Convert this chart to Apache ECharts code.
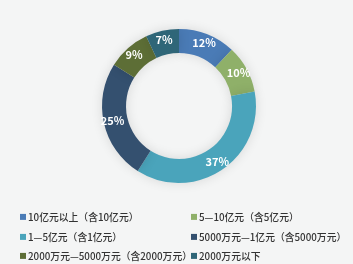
<!DOCTYPE html>
<html><head><meta charset="utf-8">
<script src="https://cdn.jsdelivr.net/npm/echarts@6/dist/echarts.min.js"></script>
<style>html,body{margin:0;padding:0;background:#f4f5f5;}#c{width:353px;height:264px;}</style>
</head><body><div id="c"></div>
<script>
const categories = ['10亿元以上（含10亿元）','5—10亿元（含5亿元）','1—5亿元（含1亿元）','5000万元—1亿元（含5000万元）','2000万元—5000万元（含2000万元）','2000万元以下'];
const values = [12,10,37,25,9,7];
const colors = ['#4a7bb6','#8fb069','#4aa4bb','#34506f','#5d6e36','#2f6678'];
const chart = echarts.init(document.getElementById('c'));
const font = '"Noto Sans CJK SC", "Noto Sans", sans-serif';
const legendPos = [[20,212],[191,212],[20,232],[191,232],[20,251],[191,251]];
chart.setOption({
  backgroundColor:'#f4f5f5',
  color: colors,
  legend: categories.map((c,i)=>({
    data:[c], left:legendPos[i][0], top:legendPos[i][1], itemWidth:6, itemHeight:6, icon:'rect', padding:0,
    textStyle:{fontSize:9.8, color:'#333', fontWeight:500, fontFamily:font, padding:[0,0,0,-3]}
  })),
  series:[{
    type:'pie', center:[179,106], radius:[53,77], startAngle:90, clockwise:true,
    itemStyle:{shadowBlur:12, shadowColor:'rgba(0,0,0,0.12)'},
    label:{position:'inside', formatter:'{c}%', color:'#fff', fontSize:11, fontWeight:600, fontFamily:font},
    labelLine:{show:false},
    emphasis:{disabled:true},
    data: categories.map((n,i)=>({name:n, value:values[i]}))
  }]
});
</script></body></html>
